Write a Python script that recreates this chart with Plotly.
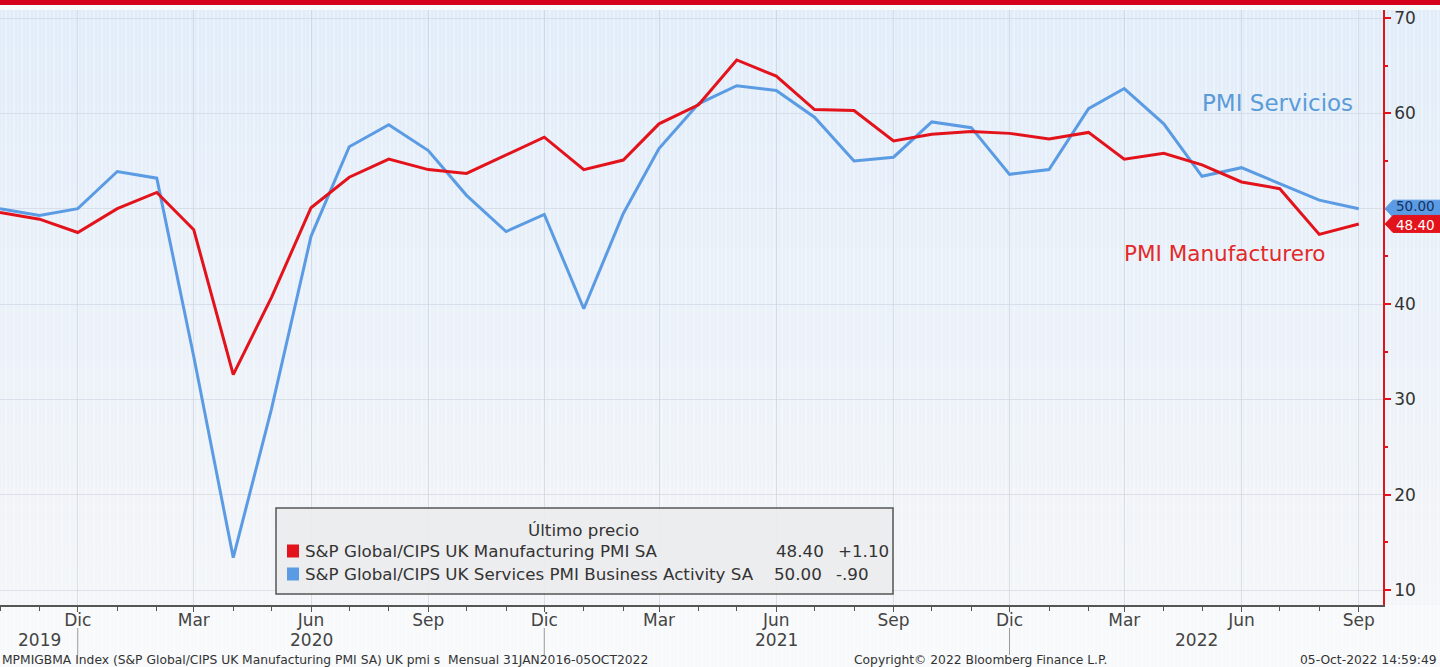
import plotly.graph_objects as go

# ---------------- data ----------------
months = [
    "2019-10-01", "2019-11-01", "2019-12-01",
    "2020-01-01", "2020-02-01", "2020-03-01", "2020-04-01", "2020-05-01", "2020-06-01",
    "2020-07-01", "2020-08-01", "2020-09-01", "2020-10-01", "2020-11-01", "2020-12-01",
    "2021-01-01", "2021-02-01", "2021-03-01", "2021-04-01", "2021-05-01", "2021-06-01",
    "2021-07-01", "2021-08-01", "2021-09-01", "2021-10-01", "2021-11-01", "2021-12-01",
    "2022-01-01", "2022-02-01", "2022-03-01", "2022-04-01", "2022-05-01", "2022-06-01",
    "2022-07-01", "2022-08-01", "2022-09-01",
]
manufacturing = [49.6, 48.9, 47.5, 50.0, 51.7, 47.8, 32.6, 40.7, 50.1, 53.3, 55.2, 54.1,
                 53.7, 55.6, 57.5, 54.1, 55.1, 58.9, 60.9, 65.6, 63.9, 60.4, 60.3, 57.1,
                 57.8, 58.1, 57.9, 57.3, 58.0, 55.2, 55.8, 54.6, 52.8, 52.1, 47.3, 48.4]
services = [50.0, 49.3, 50.0, 53.9, 53.2, 34.5, 13.4, 29.0, 47.1, 56.5, 58.8, 56.1,
            51.4, 47.6, 49.4, 39.5, 49.5, 56.3, 61.0, 62.9, 62.4, 59.6, 55.0, 55.4,
            59.1, 58.5, 53.6, 54.1, 60.5, 62.6, 58.9, 53.4, 54.3, 52.6, 50.9, 50.0]

tick_dates = ["2019-12-01", "2020-03-01", "2020-06-01", "2020-09-01", "2020-12-01",
              "2021-03-01", "2021-06-01", "2021-09-01", "2021-12-01", "2022-03-01",
              "2022-06-01", "2022-09-01"]
tick_text = ["Dic", "Mar", "Jun", "Sep", "Dic", "Mar", "Jun", "Sep", "Dic", "Mar", "Jun", "Sep"]
year_labels = ["2019", "2020", "2021", "2022"]
year_pos = ["2019-11-01", "2020-06-01", "2021-06-01", "2022-04-27"]
year_breaks = ["2019-12-01", "2020-12-01", "2021-12-01"]
y_ticks = [10, 20, 30, 40, 50, 60, 70]
# the "50" label sits under the last-value tag, as in the reference
y_tick_text = ["10", "20", "30", "40", "", "60", "70"]

legend_title = "Último precio"
mfg_name = "S&P Global/CIPS UK Manufacturing PMI SA"
svc_name = "S&P Global/CIPS UK Services PMI Business Activity SA"
mfg_change = "+1.10"
svc_change = "-.90"
label_svc = "PMI Servicios"
label_mfg = "PMI Manufacturero"
footer_left = "MPMIGBMA Index (S&P Global/CIPS UK Manufacturing PMI SA) UK pmi s  Mensual 31JAN2016-05OCT2022"
footer_mid = "Copyright© 2022 Bloomberg Finance L.P."
footer_right = "05-Oct-2022 14:59:49"

# ---------------- style ----------------
RED = "#e3131c"
BLUE = "#5b9be3"
FONT = "DejaVu Sans, Verdana, sans-serif"
W, H = 1440, 667
ML, MR, MT, MB = 0, 57, 10, 62
PW, PH = W - ML - MR, H - MT - MB
YMIN, YMAX = 8.43, 70.84
XRANGE = ["2019-10-01", "2022-09-20"]


def px(x):
    return (x - ML) / PW


def py(y):
    return (H - MB - y) / PH


def yv(v):
    return (v - YMIN) / (YMAX - YMIN)


shapes = []
# gradient background
n = 30
top_c = (224, 236, 249)
bot_c = (243, 245, 248)
for i in range(n):
    t = i / (n - 1)
    c = tuple(int(round(top_c[k] + (bot_c[k] - top_c[k]) * t)) for k in range(3))
    y1 = 1.0 - i / n
    y0 = 1.0 - (i + 1) / n
    shapes.append(dict(type="rect", xref="paper", yref="paper", x0=0, x1=px(W) + 0.01,
                       y0=y0, y1=y1 + (0.001 if i else 0.0), line=dict(width=0),
                       fillcolor="rgb(%d,%d,%d)" % c, layer="below"))
# subtle vertical stripes texture
xp = 2
k = 0
while xp < W:
    shapes.append(dict(type="line", xref="paper", yref="paper", x0=px(xp), x1=px(xp),
                       y0=py(H), y1=1.0, layer="below",
                       line=dict(color="rgba(255,255,255,%s)" % ("0.65" if k % 2 else "0.4"), width=1)))
    xp += 4
    k += 1
# top red bar
shapes.append(dict(type="rect", xref="paper", yref="paper", x0=px(0), x1=px(W) + 0.01,
                   y0=py(5), y1=py(-2), line=dict(width=0), fillcolor="#d5001c"))
# year separators
for d in year_breaks:
    shapes.append(dict(type="line", xref="x", yref="paper", x0=d, x1=d, y0=py(628), y1=py(655),
                       line=dict(color="#9a9a9a", width=1)))
# legend box
shapes.append(dict(type="rect", xref="paper", yref="paper", x0=px(276), x1=px(893),
                   y0=py(594), y1=py(508), line=dict(color="#555555", width=1.5),
                   fillcolor="rgba(236,236,238,0.92)"))
for yc, col in [(551, RED), (574, BLUE)]:
    shapes.append(dict(type="rect", xref="paper", yref="paper", x0=px(287), x1=px(299),
                       y0=py(yc + 6.5), y1=py(yc - 6.5), line=dict(width=0), fillcolor=col))


# value tags on the right axis
def tag(v, col):
    yc = yv(v)
    hh = 8.5 / PH
    x_tip, x_b, x_e = px(1385), px(1393), px(W) + 0.005
    return dict(type="path", xref="paper", yref="paper",
                path="M %f,%f L %f,%f L %f,%f L %f,%f L %f,%f Z" % (
                    x_tip, yc, x_b, yc + hh, x_e, yc + hh, x_e, yc - hh, x_b, yc - hh),
                fillcolor=col, line=dict(color=col, width=1))


shapes.append(tag(services[-1], BLUE))
shapes.append(tag(manufacturing[-1], RED))

annotations = []
annotations.append(dict(xref="paper", yref="paper", x=px(1415), y=yv(services[-1]) + 2.5 / PH,
                        text="%.2f" % services[-1], showarrow=False,
                        font=dict(family=FONT, size=13.5, color="#15305e"),
                        xanchor="center", yanchor="middle"))
annotations.append(dict(xref="paper", yref="paper", x=px(1415), y=yv(manufacturing[-1]) - 1 / PH,
                        text="%.2f" % manufacturing[-1], showarrow=False,
                        font=dict(family=FONT, size=13.5, color="white"),
                        xanchor="center", yanchor="middle"))
# series labels
annotations.append(dict(x="2022-06-29", y=61.1, text=label_svc, showarrow=False,
                        font=dict(family=FONT, size=23, color="#5b9bd8"),
                        xanchor="center", yanchor="middle"))
annotations.append(dict(x="2022-05-19", y=45.35, text=label_mfg, showarrow=False,
                        font=dict(family=FONT, size=21.5, color="#e22a2a"),
                        xanchor="center", yanchor="middle"))
# years
for lab, pos in zip(year_labels, year_pos):
    annotations.append(dict(x=pos, xref="x", yref="paper", y=py(640), text=lab, showarrow=False,
                            font=dict(family=FONT, size=17, color="#444444"),
                            xanchor="center", yanchor="middle"))
# legend texts
LF = dict(family=FONT, size=16.7, color="#333333")
annotations.append(dict(xref="paper", yref="paper", x=px(583), y=py(530), text=legend_title,
                        showarrow=False, font=LF, xanchor="center", yanchor="middle"))
annotations.append(dict(xref="paper", yref="paper", x=px(303), y=py(551), text=mfg_name,
                        showarrow=False, font=LF, xanchor="left", yanchor="middle"))
annotations.append(dict(xref="paper", yref="paper", x=px(826), y=py(551),
                        text="%.2f" % manufacturing[-1], showarrow=False, font=LF,
                        xanchor="right", yanchor="middle"))
annotations.append(dict(xref="paper", yref="paper", x=px(836), y=py(551), text=mfg_change,
                        showarrow=False, font=LF, xanchor="left", yanchor="middle"))
annotations.append(dict(xref="paper", yref="paper", x=px(303), y=py(574), text=svc_name,
                        showarrow=False, font=LF, xanchor="left", yanchor="middle"))
annotations.append(dict(xref="paper", yref="paper", x=px(824), y=py(574),
                        text="%.2f" % services[-1], showarrow=False, font=LF,
                        xanchor="right", yanchor="middle"))
annotations.append(dict(xref="paper", yref="paper", x=px(834), y=py(574), text=svc_change,
                        showarrow=False, font=LF, xanchor="left", yanchor="middle"))
# footer
FF = dict(family=FONT, size=12.3, color="#333333")
annotations.append(dict(xref="paper", yref="paper", x=px(0), y=py(660), text=footer_left,
                        showarrow=False, font=FF, xanchor="left", yanchor="middle"))
annotations.append(dict(xref="paper", yref="paper", x=px(852), y=py(660), text=footer_mid,
                        showarrow=False, font=FF, xanchor="left", yanchor="middle"))
annotations.append(dict(xref="paper", yref="paper", x=px(W - 1), y=py(660), text=footer_right,
                        showarrow=False, font=FF, xanchor="right", yanchor="middle"))

fig = go.Figure()
fig.add_trace(go.Scatter(x=months, y=services, mode="lines", name=svc_name,
                         line=dict(color=BLUE, width=3), showlegend=False))
fig.add_trace(go.Scatter(x=months, y=manufacturing, mode="lines", name=mfg_name,
                         line=dict(color=RED, width=3), showlegend=False))

fig.update_layout(
    width=W, height=H,
    margin=dict(l=ML, r=MR, t=MT, b=MB),
    paper_bgcolor="#f8f9fb",
    plot_bgcolor="rgba(0,0,0,0)",
    font=dict(family=FONT, color="#333333"),
    shapes=shapes,
    annotations=annotations,
    xaxis=dict(
        type="date", range=XRANGE,
        tickmode="array", tickvals=tick_dates, ticktext=tick_text,
        ticks="outside", ticklen=5, tickcolor="#555555", tickwidth=1,
        ticklabelstandoff=-6,
        tickfont=dict(family=FONT, size=17, color="#444444"),
        showline=True, linecolor="#555555", linewidth=1.5,
        showgrid=True, gridcolor="rgba(185,196,210,0.45)", gridwidth=1,
        zeroline=False,
        minor=dict(tickmode="linear", tick0="2019-10-01", dtick="M1", ticks="outside",
                   ticklen=4, tickcolor="#555555", showgrid=False),
    ),
    yaxis=dict(
        side="right", range=[YMIN, YMAX],
        tickmode="array", tickvals=y_ticks, ticktext=y_tick_text,
        ticks="outside", ticklen=6, tickwidth=2, tickcolor=RED,
        tickfont=dict(family=FONT, size=17, color="#333333"),
        showline=True, linecolor=RED, linewidth=1.5,
        showgrid=True, gridcolor="rgba(200,208,220,0.55)", gridwidth=1,
        zeroline=False,
        minor=dict(tickmode="linear", tick0=5, dtick=5, ticks="outside", ticklen=3,
                   tickcolor=RED, showgrid=False),
    ),
)

fig.write_html("out.html", config={"displayModeBar": False},
               post_script="document.body.style.margin='0';document.body.style.padding='0';")
